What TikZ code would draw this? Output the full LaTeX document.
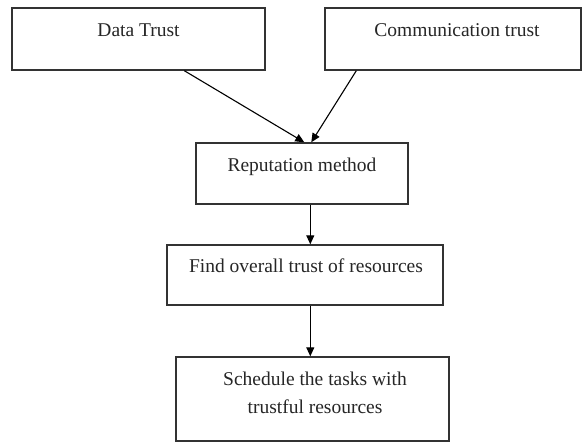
\documentclass[tikz,border=0pt]{standalone}
\usepackage{fontspec}
\setmainfont{Liberation Serif}
\usetikzlibrary{arrows.meta}
\begin{document}
\begin{tikzpicture}[x=1pt,y=-1pt,
  box/.style={draw=black!80,line width=1.4pt,rectangle,inner sep=0pt,fill=white},
  lbl/.style={anchor=base,inner sep=0pt,font=\fontsize{19.5}{24}\selectfont,text=black!85},
  conn/.style={line width=1.1pt,-{Triangle[length=9pt,width=8pt]}}]
\useasboundingbox (0,0) rectangle (583,443);
\node[box,minimum width=253pt,minimum height=62pt] (dt) at (138.5,39) {};
\node[box,minimum width=256pt,minimum height=62pt] (ct) at (453,39) {};
\node[box,minimum width=212pt,minimum height=61pt] (rm) at (302,173.5) {};
\node[box,minimum width=276pt,minimum height=60pt] (fo) at (305,275) {};
\node[box,minimum width=273pt,minimum height=84pt] (st) at (312.5,399) {};
\node[lbl] (tdt) at (138.5,37) {Data Trust};
\node[lbl] (tct) at (457,37) {Communication trust};
\node[lbl] (trm) at (302,172) {Reputation method};
\node[lbl] (tfo) at (306,273) {Find overall trust of resources};
\node[lbl] (tst1) at (315,385) {Schedule the tasks with};
\node[lbl] (tst2) at (315,413) {trustful resources};
\draw[conn] ([xshift=173pt]dt.south west) -- ([xshift=109pt]rm.north west);
\draw[conn] ([xshift=32pt]ct.south west) -- ([xshift=116pt]rm.north west);
\draw[conn] ([xshift=115pt]rm.south west) -- ([xshift=144pt]fo.north west);
\draw[conn] ([xshift=144pt]fo.south west) -- ([xshift=135pt]st.north west);
\end{tikzpicture}
\end{document}
